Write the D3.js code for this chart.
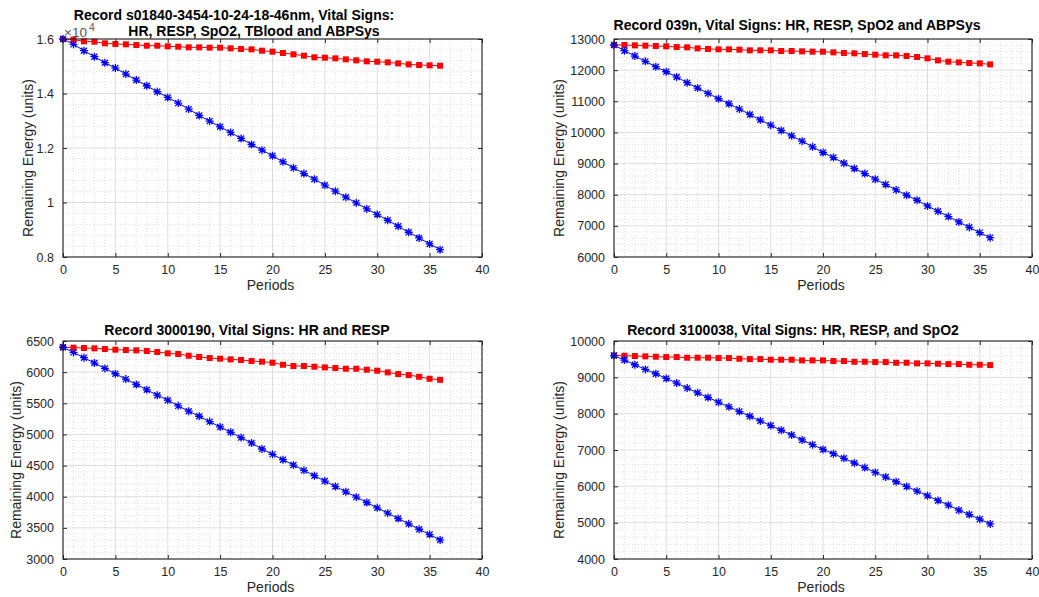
<!DOCTYPE html>
<html>
<head>
<meta charset="utf-8">
<script src="https://cdn.jsdelivr.net/npm/d3@7"></script>
<style>
  html, body { margin: 0; padding: 0; background: #fff; }
  svg { display: block; font-family: "Liberation Sans", Arial, Helvetica, sans-serif; }
</style>
</head>
<body>
<svg id="chart" width="1039" height="597"></svg>
<script>
// ---------------- DATA ----------------
const periods = d3.range(0, 37);

const titles1 = ["Record s01840-3454-10-24-18-46nm, Vital Signs:", "HR, RESP, SpO2, TBlood and ABPSys"];
const titles2 = ["Record 039n, Vital Signs: HR, RESP, SpO2 and ABPSys"];
const titles3 = ["Record 3000190, Vital Signs: HR and RESP"];
const titles4 = ["Record 3100038, Vital Signs: HR, RESP, and SpO2"];

const xTicks = [0, 5, 10, 15, 20, 25, 30, 35, 40];

// Panel 1 (values in units; axis labelled x10^4)
const blue1 = [16000,15804,15571,15351,15130,14934,14714,14493,14285,14065,13856,13648,13428,13195,12987,12778,12570,12350,12129,11921,11713,11492,11272,11063,10855,10635,10414,10194,9985,9765,9557,9349,9128,8908,8699,8479,8270];
const red1  = [16000,15975,15914,15902,15841,15816,15804,15780,15755,15755,15731,15718,15694,15694,15682,15682,15657,15633,15620,15571,15535,15486,15437,15388,15327,15314,15290,15253,15216,15180,15167,15143,15106,15069,15045,15033,15020];
const yTicks1 = [8000, 10000, 12000, 14000, 16000];
const yTickLabels1 = ["0.8", "1", "1.2", "1.4", "1.6"];

// Panel 2
const blue2 = [12807,12625,12453,12282,12110,11949,11778,11596,11424,11253,11081,10920,10749,10577,10406,10234,10063,9891,9720,9537,9355,9194,9012,8841,8680,8498,8326,8155,7983,7822,7640,7468,7297,7125,6954,6782,6622];
const red2  = [12807,12807,12796,12786,12775,12764,12743,12732,12700,12679,12668,12668,12657,12636,12636,12636,12614,12614,12604,12593,12593,12571,12550,12539,12518,12496,12475,12475,12454,12422,12379,12314,12272,12250,12229,12218,12185];
const yTicks2 = [6000, 7000, 8000, 9000, 10000, 11000, 12000, 13000];
const yTickLabels2 = ["6000", "7000", "8000", "9000", "10000", "11000", "12000", "13000"];

// Panel 3
const blue3 = [6400,6317,6232,6146,6060,5974,5888,5802,5716,5630,5550,5459,5373,5292,5206,5120,5035,4949,4863,4766,4680,4594,4508,4423,4337,4251,4165,4079,3993,3907,3821,3736,3650,3564,3478,3392,3306];
const red3  = [6400,6393,6387,6382,6371,6361,6355,6350,6339,6323,6302,6291,6264,6243,6227,6216,6205,6195,6178,6168,6152,6119,6098,6098,6087,6076,6066,6055,6055,6039,6023,5996,5969,5953,5926,5894,5877];
const yTicks3 = [3000, 3500, 4000, 4500, 5000, 5500, 6000, 6500];
const yTickLabels3 = ["3000", "3500", "4000", "4500", "5000", "5500", "6000", "6500"];

// Panel 4
const blue4 = [9600,9475,9347,9218,9098,8969,8841,8703,8574,8445,8316,8187,8058,7929,7801,7672,7543,7414,7276,7147,7015,6899,6771,6642,6515,6384,6255,6126,5997,5868,5739,5611,5482,5344,5224,5095,4966];
const red4  = [9600,9595,9586,9577,9568,9558,9558,9540,9540,9540,9531,9531,9512,9503,9503,9485,9485,9485,9466,9466,9466,9448,9448,9429,9429,9420,9420,9402,9402,9384,9384,9374,9365,9365,9347,9347,9338];
const yTicks4 = [4000, 5000, 6000, 7000, 8000, 9000, 10000];
const yTickLabels4 = ["4000", "5000", "6000", "7000", "8000", "9000", "10000"];

// ---------------- LAYOUT ----------------
const panels = [
  { left: 63,  right: 482,  top: 39,  bottom: 257, blue: blue1, red: red1, yTicks: yTicks1, yLabels: yTickLabels1, yMinor: 400, title: titles1, titleX: [234, 254], titleY: [20, 36], ylabX: 28, exp: true },
  { left: 614, right: 1032, top: 39,  bottom: 257, blue: blue2, red: red2, yTicks: yTicks2, yLabels: yTickLabels2, yMinor: 200, title: titles2, titleX: [797], titleY: [30], ylabX: 559 },
  { left: 63,  right: 482,  top: 341, bottom: 559, blue: blue3, red: red3, yTicks: yTicks3, yLabels: yTickLabels3, yMinor: 100, title: titles3, titleX: [247], titleY: [335], ylabX: 16 },
  { left: 614, right: 1032, top: 341, bottom: 559, blue: blue4, red: red4, yTicks: yTicks4, yLabels: yTickLabels4, yMinor: 200, title: titles4, titleX: [793], titleY: [335], ylabX: 559 }
];

const svg = d3.select("#chart");
const axisColor = "#262626";

panels.forEach(p => {
  const x = d3.scaleLinear().domain([0, 40]).range([p.left, p.right]);
  const y = d3.scaleLinear().domain([p.yTicks[0], p.yTicks[p.yTicks.length - 1]]).range([p.bottom, p.top]);
  const g = svg.append("g");
  const w = p.right - p.left, h = p.bottom - p.top;

  // minor grid
  const xMinor = d3.range(0, 40.001, 1).filter(v => v % 5 !== 0);
  const yMinor = d3.range(y.domain()[0], y.domain()[1] + 0.001, p.yMinor).filter(v => !p.yTicks.includes(v));
  g.append("g").selectAll("line.xm").data(xMinor).join("line")
    .attr("x1", d => x(d)).attr("x2", d => x(d)).attr("y1", p.top).attr("y2", p.bottom)
    .attr("stroke", "#c8c8c8").attr("stroke-width", 0.6).attr("stroke-dasharray", "1,2");
  g.append("g").selectAll("line.ym").data(yMinor).join("line")
    .attr("x1", p.left).attr("x2", p.right).attr("y1", d => y(d)).attr("y2", d => y(d))
    .attr("stroke", "#c8c8c8").attr("stroke-width", 0.6).attr("stroke-dasharray", "1,2");
  // major grid
  g.append("g").selectAll("line.xg").data(xTicks).join("line")
    .attr("x1", d => x(d)).attr("x2", d => x(d)).attr("y1", p.top).attr("y2", p.bottom)
    .attr("stroke", "#dedede").attr("stroke-width", 1);
  g.append("g").selectAll("line.yg").data(p.yTicks).join("line")
    .attr("x1", p.left).attr("x2", p.right).attr("y1", d => y(d)).attr("y2", d => y(d))
    .attr("stroke", "#dedede").attr("stroke-width", 1);

  // lines
  const line = d3.line().x((d, i) => x(periods[i])).y(d => y(d));
  g.append("path").datum(p.red).attr("d", line).attr("fill", "none").attr("stroke", "#ff0000").attr("stroke-width", 1);
  g.append("path").datum(p.blue).attr("d", line).attr("fill", "none").attr("stroke", "#0000ff").attr("stroke-width", 1);

  // red square markers
  g.append("g").selectAll("rect").data(p.red).join("rect")
    .attr("x", (d, i) => x(periods[i]) - 3).attr("y", d => y(d) - 3)
    .attr("width", 6).attr("height", 6).attr("fill", "#ff0000");

  // blue asterisk markers
  const star = "M-4,0L4,0M0,-4L0,4M-3,-3L3,3M-3,3L3,-3";
  g.append("g").selectAll("path").data(p.blue).join("path")
    .attr("transform", (d, i) => `translate(${x(periods[i])},${y(d)})`)
    .attr("d", star).attr("stroke", "#0000ff").attr("stroke-width", 1.3).attr("fill", "none");

  // axes with inward ticks
  const xAxis = d3.axisBottom(x).tickValues(xTicks).tickSizeInner(-4).tickSizeOuter(0).tickPadding(8);
  const xa = g.append("g").attr("transform", `translate(0,${p.bottom})`).call(xAxis);
  const yAxis = d3.axisLeft(y).tickValues(p.yTicks).tickFormat((d, i) => p.yLabels[i]).tickSizeInner(-4).tickSizeOuter(0).tickPadding(9);
  const ya = g.append("g").attr("transform", `translate(${p.left},0)`).call(yAxis);
  const xTop = d3.axisTop(x).tickValues(xTicks).tickSizeInner(-4).tickSizeOuter(0).tickFormat("");
  const xt = g.append("g").attr("transform", `translate(0,${p.top})`).call(xTop);
  const yRight = d3.axisRight(y).tickValues(p.yTicks).tickSizeInner(-4).tickSizeOuter(0).tickFormat("");
  const yr = g.append("g").attr("transform", `translate(${p.right},0)`).call(yRight);
  [xa, ya, xt, yr].forEach(a => {
    a.select(".domain").remove();
    a.selectAll(".tick line").attr("stroke", axisColor);
    a.selectAll(".tick text").attr("fill", axisColor).style("font-size", "12.5px")
      .style("font-family", "'Liberation Sans', Arial, sans-serif");
  });

  // box
  g.append("rect").attr("x", p.left).attr("y", p.top).attr("width", w).attr("height", h)
    .attr("fill", "none").attr("stroke", axisColor).attr("stroke-width", 1.1);

  // titles
  p.title.forEach((t, i) => {
    g.append("text").attr("x", p.titleX[i]).attr("y", p.titleY[i]).attr("text-anchor", "middle")
      .style("font-size", "14px").style("font-weight", "bold").attr("fill", "#000").text(t);
  });

  // axis labels
  g.append("text").attr("x", (p.left + p.right) / 2 - 2).attr("y", p.bottom + 33).attr("text-anchor", "middle")
    .style("font-size", "14px").attr("fill", axisColor).text("Periods");
  g.append("text").attr("transform", `translate(${p.ylabX},${(p.top + p.bottom) / 2 + 10}) rotate(-90)`)
    .attr("text-anchor", "middle").attr("dy", "0.35em")
    .style("font-size", "14px").attr("fill", axisColor).text("Remaining Energy (units)");

  if (p.exp) {
    const e = g.append("text").attr("x", p.left + 1).attr("y", p.top - 2).style("font-size", "13.5px").attr("fill", "#555");
    e.append("tspan").text("×10");
    e.append("tspan").attr("dy", -6).attr("dx", 2).style("font-size", "10.5px").text("4");
  }
});
</script>
</body>
</html>
